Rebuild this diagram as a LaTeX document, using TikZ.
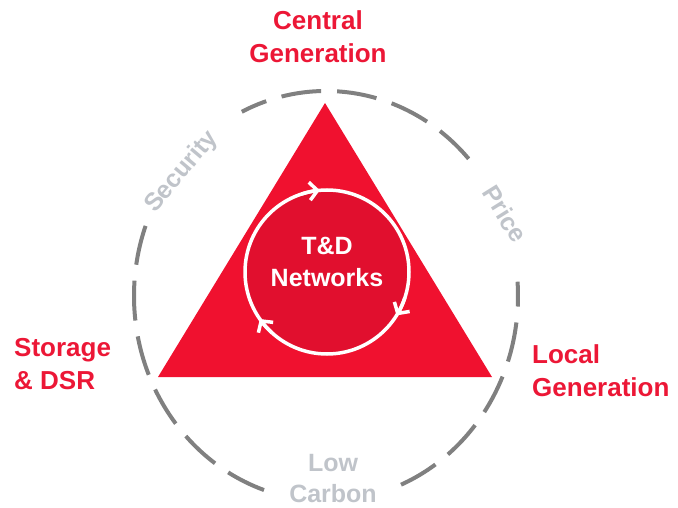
\documentclass[tikz,border=0pt]{standalone}
\usepackage{fontspec}
\setmainfont{Liberation Sans}
\usepackage{xcolor}
\usepackage{tikz}
\usetikzlibrary{arrows.meta,positioning}

\definecolor{triRed}{HTML}{F0112F}
\definecolor{hubRed}{HTML}{E10F2E}
\definecolor{labRed}{HTML}{EC1736}
\definecolor{softGray}{HTML}{C0C4CA}
\definecolor{dashGray}{HTML}{808080}

\begin{document}
\begin{tikzpicture}[
  x=1pt, y=1pt,
  actor/.style={font=\fontsize{26}{33}\selectfont\bfseries, text=labRed,
                inner sep=0pt},
  goal/.style={font=\fontsize{25}{31}\selectfont\bfseries, text=softGray,
               inner sep=0pt, align=center},
  ring/.style={draw=dashGray, line width=4pt, dash pattern=on 40pt off 16pt},
  flow/.style={white, line width=3.5pt, -{Straight Barb[length=8pt,width=18pt]}},
]
  \useasboundingbox (0,0) rectangle (678,-508);

  % Dashed ring, broken where the goals sit
  \coordinate (mid) at (326,-296);
  \draw[ring] (mid) ++(-67:192pt and 205pt)
    arc[start angle=-67, end angle=4, x radius=192pt, y radius=205pt];
  \draw[ring] (mid) ++(42:192pt and 205pt)
    arc[start angle=42, end angle=116, x radius=192pt, y radius=205pt];
  \draw[ring] (mid) ++(160:192pt and 205pt)
    arc[start angle=160, end angle=252, x radius=192pt, y radius=205pt];

  % Triangle
  \coordinate (apex) at (325,-103);
  \coordinate (right) at (492,-377);
  \coordinate (left) at (158,-377);
  \fill[triRed] (apex) -- (right) -- (left) -- cycle;

  % Hub
  \node[circle, fill=hubRed, draw=white, line width=3.5pt,
        minimum size=164pt, inner sep=0pt] (hub) at (327,-272) {};
  \node[font=\fontsize{25}{32}\selectfont\bfseries, text=white,
        align=center, inner sep=0pt] (hubtext) at (327,-262) {T\&D\\Networks};
  \draw[flow] (hub.center) ++(108:82pt) arc[start angle=108, end angle=95, radius=82pt];
  \draw[flow] (hub.center) ++(-18:82pt) arc[start angle=-18, end angle=-32, radius=82pt];
  \draw[flow] (hub.center) ++(-132:82pt) arc[start angle=-132, end angle=-145, radius=82pt];

  % Corner labels
  \node[actor, align=center] (central) at (318,-37) {Central\\Generation};
  \node[actor, align=left, anchor=west] (storage) at (14,-364) {Storage\\\& DSR};
  \node[actor, align=left, anchor=west] (local) at (532,-371) {Local\\Generation};

  % Goals on the ring
  \node[goal, rotate=50] (security) at (182,-172) {Security};
  \node[goal, rotate=-58] (price) at (505,-214) {Price};
  \node[goal] (carbon) at (333,-479) {Low\\Carbon};
\end{tikzpicture}
\end{document}
